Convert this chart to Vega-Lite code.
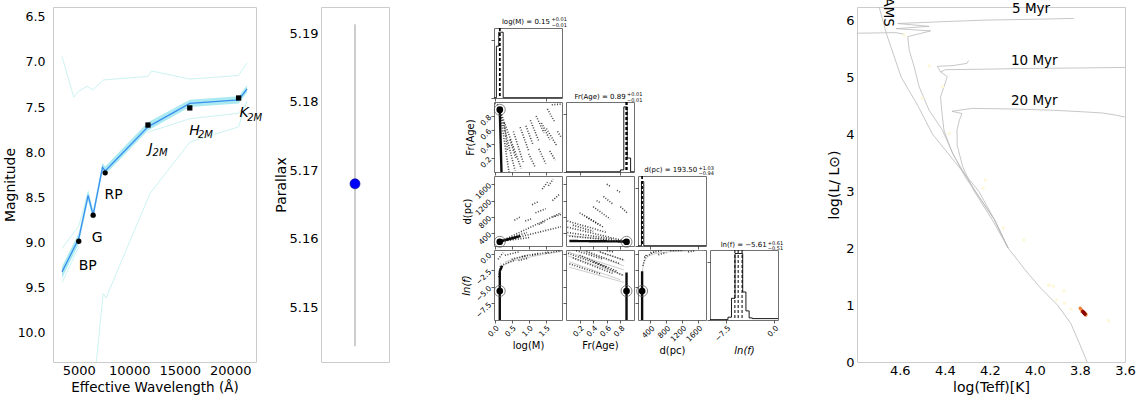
{
  "$schema": "https://vega.github.io/schema/vega-lite/v6.json",
  "autosize": {"type": "none"},
  "padding": {"left": 53, "top": 7, "right": 1090, "bottom": 392},
  "background": "#ffffff",
  "config": {
    "font": "DejaVu Sans",
    "view": {"stroke": "#cccccc", "strokeWidth": 1},
    "axis": {"grid": false, "ticks": false, "domain": false, "labelColor": "#000000", "titleColor": "#000000", "labelFontSize": 13, "titleFontSize": 14, "titleFontWeight": "normal", "labelFlush": false, "labelOverlap": false, "labelFont": "DejaVu Sans", "titleFont": "DejaVu Sans"},
    "text": {"font": "DejaVu Sans", "color": "#000000"}
  },
  "datasets": {
    "sed_model": [
      {"wl": 3344, "mag": 9.33, "lo": 9.27, "hi": 9.40},
      {"wl": 5000, "mag": 8.96, "lo": 8.90, "hi": 9.02},
      {"wl": 5927, "mag": 8.48, "lo": 8.42, "hi": 8.54},
      {"wl": 6424, "mag": 8.70, "lo": 8.64, "hi": 8.75},
      {"wl": 7351, "mag": 8.17, "lo": 8.12, "hi": 8.22},
      {"wl": 7616, "mag": 8.21, "lo": 8.16, "hi": 8.25},
      {"wl": 11854, "mag": 7.72, "lo": 7.67, "hi": 7.76},
      {"wl": 15993, "mag": 7.46, "lo": 7.42, "hi": 7.50},
      {"wl": 20828, "mag": 7.42, "lo": 7.38, "hi": 7.46},
      {"wl": 21656, "mag": 7.30, "lo": 7.26, "hi": 7.34}
    ],
    "sed_alt": [
      {"run": "a", "wl": 3344, "mag": 6.94}, {"run": "a", "wl": 4503, "mag": 7.39}, {"run": "a", "wl": 4934, "mag": 7.33},
      {"run": "a", "wl": 5828, "mag": 7.27}, {"run": "a", "wl": 6424, "mag": 7.31}, {"run": "a", "wl": 7417, "mag": 7.20},
      {"run": "a", "wl": 11854, "mag": 7.16}, {"run": "a", "wl": 12219, "mag": 7.10}, {"run": "a", "wl": 15993, "mag": 7.19},
      {"run": "a", "wl": 20828, "mag": 7.15}, {"run": "a", "wl": 21656, "mag": 7.01},
      {"run": "b", "wl": 6500, "mag": 10.6}, {"run": "b", "wl": 7417, "mag": 9.57}, {"run": "b", "wl": 7700, "mag": 9.62},
      {"run": "b", "wl": 12054, "mag": 8.46}, {"run": "b", "wl": 15993, "mag": 7.89}, {"run": "b", "wl": 20828, "mag": 7.72},
      {"run": "b", "wl": 21656, "mag": 7.43},
      {"run": "c", "wl": 11854, "mag": 7.78}, {"run": "c", "wl": 15993, "mag": 7.63}, {"run": "c", "wl": 20828, "mag": 7.57},
      {"run": "c", "wl": 21656, "mag": 7.45},
      {"run": "d", "wl": 3344, "mag": 9.07}, {"run": "d", "wl": 5000, "mag": 8.82}, {"run": "d", "wl": 5900, "mag": 8.45},
      {"run": "e", "wl": 3344, "mag": 9.45}, {"run": "e", "wl": 5000, "mag": 9.05}
    ],
    "sed_obs": [
      {"band": "BP", "wl": 5000, "mag": 8.99, "survey": "Gaia"},
      {"band": "G", "wl": 6424, "mag": 8.70, "survey": "Gaia"},
      {"band": "RP", "wl": 7616, "mag": 8.23, "survey": "Gaia"},
      {"band": "J", "wl": 11854, "mag": 7.70, "survey": "2MASS"},
      {"band": "H", "wl": 15993, "mag": 7.51, "survey": "2MASS"},
      {"band": "K", "wl": 20828, "mag": 7.40, "survey": "2MASS"}
    ],
    "sed_labels": [
      {"label": "BP", "wl": 5894, "mag": 9.26, "style": "plain"},
      {"label": "G", "wl": 6818, "mag": 8.95, "style": "plain"},
      {"label": "RP", "wl": 8447, "mag": 8.48, "style": "plain"},
      {"label": "J", "wl": 12122, "mag": 7.97, "style": "band"},
      {"label": "2M", "wl": 13046, "mag": 8.01, "style": "sub"},
      {"label": "H", "wl": 16454, "mag": 7.77, "style": "band"},
      {"label": "2M", "wl": 17547, "mag": 7.81, "style": "sub"},
      {"label": "K", "wl": 21359, "mag": 7.57, "style": "band"},
      {"label": "2M", "wl": 22417, "mag": 7.62, "style": "sub"}
    ],
    "parallax": [{"pos": 0, "plx": 5.168, "lo": 5.1443, "hi": 5.1913}],
    "hist": [
      {"cell": "M", "v": -0.02, "h": 0.004}, {"cell": "M", "v": 0.05, "h": 0.74}, {"cell": "M", "v": 0.12, "h": 0.94},
      {"cell": "M", "v": 0.25, "h": 0.004}, {"cell": "M", "v": 1.98, "h": 0.004},
      {"cell": "F", "v": 0.0, "h": 0.003}, {"cell": "F", "v": 0.80, "h": 0.03}, {"cell": "F", "v": 0.85, "h": 0.93},
      {"cell": "F", "v": 0.90, "h": 0.20}, {"cell": "F", "v": 0.95, "h": 0.003}, {"cell": "F", "v": 1.0, "h": 0.003},
      {"cell": "D", "v": 90, "h": 0.003}, {"cell": "D", "v": 177, "h": 0.92}, {"cell": "D", "v": 235, "h": 0.004},
      {"cell": "D", "v": 1800, "h": 0.004},
      {"cell": "L", "v": -10, "h": 0.005}, {"cell": "L", "v": -7.2, "h": 0.04}, {"cell": "L", "v": -6.65, "h": 0.31},
      {"cell": "L", "v": -6.1, "h": 0.95}, {"cell": "L", "v": -5.5, "h": 0.95}, {"cell": "L", "v": -4.9, "h": 0.40},
      {"cell": "L", "v": -4.4, "h": 0.13}, {"cell": "L", "v": -3.9, "h": 0.03}, {"cell": "L", "v": -3.4, "h": 0.02},
      {"cell": "L", "v": 0.6, "h": 0.02}
    ],
    "q": [
      {"cell": "M", "v": 0.14}, {"cell": "M", "v": 0.15}, {"cell": "M", "v": 0.16},
      {"cell": "F", "v": 0.88}, {"cell": "F", "v": 0.89}, {"cell": "F", "v": 0.90},
      {"cell": "D", "v": 192.56}, {"cell": "D", "v": 193.5}, {"cell": "D", "v": 194.53},
      {"cell": "L", "v": -6.12}, {"cell": "L", "v": -5.61}, {"cell": "L", "v": -5.0}
    ],
    "htitle": [
      {"cell": "M", "part": "main", "v": 1.627, "h": 1.09, "label": "log(M) = 0.15"},
      {"cell": "M", "part": "sup", "v": 1.671, "h": 1.125, "label": "+0.01"},
      {"cell": "M", "part": "sub", "v": 1.671, "h": 1.045, "label": "−0.01"},
      {"cell": "F", "part": "main", "v": 0.878, "h": 1.076, "label": "Fr(Age) = 0.89"},
      {"cell": "F", "part": "sup", "v": 0.897, "h": 1.11, "label": "+0.01"},
      {"cell": "F", "part": "sub", "v": 0.897, "h": 1.03, "label": "−0.01"},
      {"cell": "D", "part": "main", "v": 1581, "h": 1.086, "label": "d(pc) = 193.50"},
      {"cell": "D", "part": "sup", "v": 1611, "h": 1.12, "label": "+1.03"},
      {"cell": "D", "part": "sub", "v": 1611, "h": 1.04, "label": "−0.94"},
      {"cell": "L", "part": "main", "v": -1.16, "h": 1.071, "label": "ln(f) = −5.61"},
      {"cell": "L", "part": "sup", "v": -1.0, "h": 1.105, "label": "+0.61"},
      {"cell": "L", "part": "sub", "v": -1.0, "h": 1.025, "label": "−0.51"}
    ],
    "samples": [
      {"cell": "MF", "kind": "cloud", "a": 0.11, "b": 0.93, "a2": 0.19, "b2": 0.84},
      {"cell": "MF", "kind": "trail", "a": 0.15, "b": 0.89, "a2": 0.42, "b2": 0.0},
      {"cell": "MF", "kind": "trail", "a": 0.15, "b": 0.89, "a2": 0.6, "b2": 0.02},
      {"cell": "MF", "kind": "trail", "a": 0.15, "b": 0.89, "a2": 0.78, "b2": 0.05},
      {"cell": "MF", "kind": "trail", "a": 0.28, "b": 0.7, "a2": 0.38, "b2": 0.3},
      {"cell": "MF", "kind": "trail", "a": 0.55, "b": 0.58, "a2": 0.85, "b2": 0.12},
      {"cell": "MF", "kind": "trail", "a": 0.75, "b": 0.64, "a2": 1.0, "b2": 0.3},
      {"cell": "MF", "kind": "trail", "a": 0.92, "b": 0.66, "a2": 1.12, "b2": 0.4},
      {"cell": "MF", "kind": "trail", "a": 1.05, "b": 0.74, "a2": 1.3, "b2": 0.44},
      {"cell": "MF", "kind": "trail", "a": 1.22, "b": 0.8, "a2": 1.45, "b2": 0.56},
      {"cell": "MF", "kind": "trail", "a": 1.38, "b": 0.7, "a2": 1.62, "b2": 0.46},
      {"cell": "MF", "kind": "trail", "a": 1.52, "b": 0.62, "a2": 1.82, "b2": 0.38},
      {"cell": "MF", "kind": "trail", "a": 1.0, "b": 0.26, "a2": 1.2, "b2": 0.06},
      {"cell": "MF", "kind": "trail", "a": 1.3, "b": 0.33, "a2": 1.5, "b2": 0.12},
      {"cell": "MF", "kind": "trail", "a": 1.62, "b": 0.3, "a2": 1.78, "b2": 0.17},
      {"cell": "MF", "kind": "trail", "a": 1.68, "b": 0.96, "a2": 1.96, "b2": 0.97},
      {"cell": "MF", "kind": "trail", "a": 0.45, "b": 0.46, "a2": 0.62, "b2": 0.2},
      {"cell": "MF", "kind": "trail", "a": 1.55, "b": 0.9, "a2": 1.76, "b2": 0.72},
      {"cell": "MF", "kind": "trail", "a": 0.0, "b": 0.98, "a2": 0.1, "b2": 0.96},
      {"cell": "MF", "kind": "trail", "a": 1.85, "b": 0.58, "a2": 1.95, "b2": 0.5},
      {"cell": "MF", "kind": "core", "a": 0.15, "b": 0.89, "a2": 0.2, "b2": 0.0},
      {"cell": "MD", "kind": "cloud", "a": 0.08, "b": 200, "a2": 0.35, "b2": 240},
      {"cell": "MD", "kind": "trail", "a": 0.15, "b": 194, "a2": 1.95, "b2": 900},
      {"cell": "MD", "kind": "trail", "a": 0.15, "b": 194, "a2": 1.95, "b2": 560},
      {"cell": "MD", "kind": "trail", "a": 0.15, "b": 200, "a2": 1.05, "b2": 300},
      {"cell": "MD", "kind": "trail", "a": 1.2, "b": 900, "a2": 1.5, "b2": 1000},
      {"cell": "MD", "kind": "trail", "a": 1.4, "b": 1480, "a2": 1.55, "b2": 1650},
      {"cell": "MD", "kind": "trail", "a": 1.58, "b": 1560, "a2": 1.72, "b2": 1720},
      {"cell": "MD", "kind": "trail", "a": 1.7, "b": 1200, "a2": 1.9, "b2": 1350},
      {"cell": "MD", "kind": "trail", "a": 0.9, "b": 700, "a2": 1.1, "b2": 760},
      {"cell": "MD", "kind": "trail", "a": 0.58, "b": 720, "a2": 0.75, "b2": 800},
      {"cell": "MD", "kind": "trail", "a": 1.3, "b": 620, "a2": 1.5, "b2": 700},
      {"cell": "MD", "kind": "trail", "a": 1.7, "b": 800, "a2": 1.95, "b2": 860},
      {"cell": "MD", "kind": "trail", "a": 0.35, "b": 260, "a2": 0.95, "b2": 420},
      {"cell": "MD", "kind": "trail", "a": 1.1, "b": 1100, "a2": 1.3, "b2": 1180},
      {"cell": "MD", "kind": "core", "a": 0.12, "b": 194, "a2": 0.75, "b2": 330},
      {"cell": "FD", "kind": "cloud", "a": 0.02, "b": 350, "a2": 0.6, "b2": 250},
      {"cell": "FD", "kind": "trail", "a": 0.02, "b": 550, "a2": 0.89, "b2": 205},
      {"cell": "FD", "kind": "trail", "a": 0.02, "b": 700, "a2": 0.6, "b2": 420},
      {"cell": "FD", "kind": "trail", "a": 0.02, "b": 420, "a2": 0.7, "b2": 260},
      {"cell": "FD", "kind": "trail", "a": 0.05, "b": 330, "a2": 0.8, "b2": 215},
      {"cell": "FD", "kind": "trail", "a": 0.2, "b": 900, "a2": 0.5, "b2": 600},
      {"cell": "FD", "kind": "trail", "a": 0.4, "b": 1050, "a2": 0.65, "b2": 750},
      {"cell": "FD", "kind": "trail", "a": 0.55, "b": 1300, "a2": 0.7, "b2": 1100},
      {"cell": "FD", "kind": "trail", "a": 0.6, "b": 1600, "a2": 0.66, "b2": 1540},
      {"cell": "FD", "kind": "trail", "a": 0.8, "b": 1050, "a2": 0.9, "b2": 900},
      {"cell": "FD", "kind": "trail", "a": 0.3, "b": 800, "a2": 0.55, "b2": 550},
      {"cell": "FD", "kind": "trail", "a": 0.75, "b": 1450, "a2": 0.8, "b2": 1400},
      {"cell": "FD", "kind": "trail", "a": 0.1, "b": 600, "a2": 0.4, "b2": 450},
      {"cell": "FD", "kind": "trail", "a": 0.45, "b": 1200, "a2": 0.5, "b2": 1150},
      {"cell": "FD", "kind": "core", "a": 0.05, "b": 212, "a2": 0.89, "b2": 200},
      {"cell": "ML", "kind": "cloud", "a": 0.2, "b": -1.9, "a2": 0.45, "b2": -1.2},
      {"cell": "ML", "kind": "cloud", "a": 0.45, "b": -1.2, "a2": 0.8, "b2": -0.7},
      {"cell": "ML", "kind": "cloud", "a": 0.8, "b": -0.7, "a2": 1.2, "b2": -0.3},
      {"cell": "ML", "kind": "cloud", "a": 1.2, "b": -0.3, "a2": 1.6, "b2": 0.1},
      {"cell": "ML", "kind": "cloud", "a": 1.6, "b": 0.1, "a2": 1.98, "b2": 0.4},
      {"cell": "ML", "kind": "cloud", "a": 0.3, "b": -1.2, "a2": 1.0, "b2": -0.1},
      {"cell": "ML", "kind": "trail", "a": 0.25, "b": -1.6, "a2": 0.6, "b2": -0.9},
      {"cell": "ML", "kind": "trail", "a": 0.5, "b": -0.8, "a2": 0.9, "b2": -0.3},
      {"cell": "ML", "kind": "trail", "a": 0.8, "b": -0.4, "a2": 1.3, "b2": 0.1},
      {"cell": "ML", "kind": "trail", "a": 1.1, "b": -0.2, "a2": 1.6, "b2": 0.3},
      {"cell": "ML", "kind": "trail", "a": 1.5, "b": 0.1, "a2": 1.95, "b2": 0.5},
      {"cell": "ML", "kind": "trail", "a": 0.1, "b": -0.8, "a2": 0.25, "b2": 0.2},
      {"cell": "ML", "kind": "trail", "a": 0.3, "b": -0.2, "a2": 0.7, "b2": 0.3},
      {"cell": "ML", "kind": "trail", "a": 0.7, "b": -1.0, "a2": 1.0, "b2": -0.6},
      {"cell": "ML", "kind": "trail", "a": 0.12, "b": -3.5, "a2": 0.18, "b2": -1.5},
      {"cell": "ML", "kind": "core", "a": 0.15, "b": -10, "a2": 0.15, "b2": -2.6},
      {"cell": "ML", "kind": "core", "a": 0.15, "b": -2.6, "a2": 0.22, "b2": -1.8},
      {"cell": "FL", "kind": "cloud", "a": 0.03, "b": -0.3, "a2": 0.85, "b2": -3.2},
      {"cell": "FL", "kind": "cloud", "a": 0.03, "b": 0.3, "a2": 0.85, "b2": -2.4},
      {"cell": "FL", "kind": "cloud", "a": 0.05, "b": -1.2, "a2": 0.8, "b2": -3.9},
      {"cell": "FL", "kind": "cloud", "a": 0.25, "b": 0.45, "a2": 0.85, "b2": -1.8},
      {"cell": "FL", "kind": "cloud", "a": 0.05, "b": -2.0, "a2": 0.85, "b2": -4.3},
      {"cell": "FL", "kind": "cloud", "a": 0.45, "b": 0.5, "a2": 0.86, "b2": -1.0},
      {"cell": "FL", "kind": "trail", "a": 0.03, "b": 0.1, "a2": 0.6, "b2": -2.0},
      {"cell": "FL", "kind": "trail", "a": 0.1, "b": -0.6, "a2": 0.7, "b2": -3.0},
      {"cell": "FL", "kind": "trail", "a": 0.2, "b": -0.2, "a2": 0.75, "b2": -2.6},
      {"cell": "FL", "kind": "trail", "a": 0.3, "b": 0.4, "a2": 0.8, "b2": -1.5},
      {"cell": "FL", "kind": "trail", "a": 0.05, "b": -1.5, "a2": 0.5, "b2": -3.0},
      {"cell": "FL", "kind": "trail", "a": 0.4, "b": -1.2, "a2": 0.85, "b2": -3.3},
      {"cell": "FL", "kind": "trail", "a": 0.5, "b": 0.3, "a2": 0.85, "b2": -0.9},
      {"cell": "FL", "kind": "trail", "a": 0.6, "b": 0.5, "a2": 0.7, "b2": 0.3},
      {"cell": "FL", "kind": "trail", "a": 0.15, "b": 0.5, "a2": 0.55, "b2": -0.8},
      {"cell": "FL", "kind": "core", "a": 0.89, "b": -10, "a2": 0.89, "b2": -2.8},
      {"cell": "DL", "kind": "cloud", "a": 200, "b": -2.6, "a2": 240, "b2": -1.2},
      {"cell": "DL", "kind": "cloud", "a": 240, "b": -1.2, "a2": 350, "b2": -0.3},
      {"cell": "DL", "kind": "cloud", "a": 350, "b": -0.3, "a2": 550, "b2": 0.1},
      {"cell": "DL", "kind": "cloud", "a": 550, "b": 0.1, "a2": 900, "b2": 0.35},
      {"cell": "DL", "kind": "cloud", "a": 900, "b": 0.35, "a2": 1300, "b2": 0.45},
      {"cell": "DL", "kind": "cloud", "a": 1300, "b": 0.45, "a2": 1750, "b2": 0.55},
      {"cell": "DL", "kind": "trail", "a": 210, "b": -1.8, "a2": 300, "b2": 0.0},
      {"cell": "DL", "kind": "trail", "a": 400, "b": 0.2, "a2": 700, "b2": 0.5},
      {"cell": "DL", "kind": "trail", "a": 900, "b": 0.5, "a2": 1200, "b2": 0.55},
      {"cell": "DL", "kind": "trail", "a": 1350, "b": 0.3, "a2": 1500, "b2": 0.45},
      {"cell": "DL", "kind": "trail", "a": 250, "b": -0.5, "a2": 500, "b2": 0.3},
      {"cell": "DL", "kind": "trail", "a": 600, "b": -0.1, "a2": 800, "b2": 0.2},
      {"cell": "DL", "kind": "core", "a": 193.5, "b": -10, "a2": 193.5, "b2": -2.6}
    ],
    "best": [
      {"cell": "MF", "a": 0.15, "b": 0.89}, {"cell": "MD", "a": 0.15, "b": 193.5}, {"cell": "FD", "a": 0.89, "b": 193.5},
      {"cell": "ML", "a": 0.15, "b": -5.61}, {"cell": "FL", "a": 0.89, "b": -5.61}, {"cell": "DL", "a": 193.5, "b": -5.61}
    ],
    "isochrones": [
      {"track": "ZAMS", "i": 0, "logT": 4.70, "logL": 6.35}, {"track": "ZAMS", "i": 1, "logT": 4.66, "logL": 5.77},
      {"track": "ZAMS", "i": 2, "logT": 4.594, "logL": 5.0}, {"track": "ZAMS", "i": 3, "logT": 4.52, "logL": 4.5},
      {"track": "ZAMS", "i": 4, "logT": 4.455, "logL": 4.0}, {"track": "ZAMS", "i": 5, "logT": 4.353, "logL": 3.5},
      {"track": "ZAMS", "i": 6, "logT": 4.25, "logL": 3.0}, {"track": "ZAMS", "i": 7, "logT": 4.18, "logL": 2.5},
      {"track": "ZAMS", "i": 8, "logT": 4.119, "logL": 2.0}, {"track": "ZAMS", "i": 9, "logT": 4.04, "logL": 1.6},
      {"track": "ZAMS", "i": 10, "logT": 3.973, "logL": 1.29}, {"track": "ZAMS", "i": 11, "logT": 3.90, "logL": 1.0},
      {"track": "ZAMS", "i": 12, "logT": 3.841, "logL": 0.68}, {"track": "ZAMS", "i": 13, "logT": 3.805, "logL": 0.35},
      {"track": "ZAMS", "i": 14, "logT": 3.768, "logL": 0.0}, {"track": "ZAMS", "i": 15, "logT": 3.76, "logL": -0.05},
      {"track": "5 Myr", "i": 0, "logT": 3.827, "logL": 6.03}, {"track": "5 Myr", "i": 1, "logT": 4.0, "logL": 6.015},
      {"track": "5 Myr", "i": 2, "logT": 4.221, "logL": 6.0}, {"track": "5 Myr", "i": 3, "logT": 4.426, "logL": 5.97},
      {"track": "5 Myr", "i": 4, "logT": 4.609, "logL": 5.94}, {"track": "5 Myr", "i": 5, "logT": 4.47, "logL": 5.89},
      {"track": "5 Myr", "i": 6, "logT": 4.616, "logL": 5.85}, {"track": "5 Myr", "i": 7, "logT": 4.463, "logL": 5.81},
      {"track": "5 Myr", "i": 8, "logT": 4.565, "logL": 5.71}, {"track": "5 Myr", "i": 9, "logT": 4.558, "logL": 5.47},
      {"track": "5 Myr", "i": 10, "logT": 4.536, "logL": 5.18}, {"track": "5 Myr", "i": 11, "logT": 4.514, "logL": 4.83},
      {"track": "5 Myr", "i": 12, "logT": 4.47, "logL": 4.42}, {"track": "5 Myr", "i": 13, "logT": 4.411, "logL": 4.07},
      {"track": "5 Myr", "i": 14, "logT": 4.36, "logL": 3.62}, {"track": "5 Myr", "i": 15, "logT": 4.30, "logL": 3.22},
      {"track": "5 Myr", "i": 16, "logT": 4.245, "logL": 2.88}, {"track": "5 Myr", "i": 17, "logT": 4.18, "logL": 2.5},
      {"track": "5 Myr", "i": 18, "logT": 4.119, "logL": 2.0},
      {"track": "5 Myr hot", "i": 0, "logT": 4.79, "logL": 5.77}, {"track": "5 Myr hot", "i": 1, "logT": 4.70, "logL": 5.775},
      {"track": "5 Myr hot", "i": 2, "logT": 4.616, "logL": 5.78}, {"track": "5 Myr hot", "i": 3, "logT": 4.58, "logL": 5.75},
      {"track": "10 Myr", "i": 0, "logT": 4.294, "logL": 5.29}, {"track": "10 Myr", "i": 1, "logT": 4.302, "logL": 5.24},
      {"track": "10 Myr", "i": 2, "logT": 4.368, "logL": 5.20}, {"track": "10 Myr", "i": 3, "logT": 4.433, "logL": 5.19},
      {"track": "10 Myr", "i": 4, "logT": 4.419, "logL": 5.09}, {"track": "10 Myr", "i": 5, "logT": 4.397, "logL": 5.13},
      {"track": "10 Myr", "i": 6, "logT": 4.20, "logL": 5.14}, {"track": "10 Myr", "i": 7, "logT": 4.075, "logL": 5.15},
      {"track": "10 Myr", "i": 8, "logT": 3.80, "logL": 5.16}, {"track": "10 Myr", "i": 9, "logT": 3.59, "logL": 5.17},
      {"track": "10 Myr MS", "i": 0, "logT": 4.419, "logL": 5.09}, {"track": "10 Myr MS", "i": 1, "logT": 4.389, "logL": 5.01},
      {"track": "10 Myr MS", "i": 2, "logT": 4.419, "logL": 4.65}, {"track": "10 Myr MS", "i": 3, "logT": 4.414, "logL": 4.42},
      {"track": "10 Myr MS", "i": 4, "logT": 4.404, "logL": 4.07}, {"track": "10 Myr MS", "i": 5, "logT": 4.37, "logL": 3.7},
      {"track": "10 Myr MS", "i": 6, "logT": 4.31, "logL": 3.25}, {"track": "10 Myr MS", "i": 7, "logT": 4.245, "logL": 2.88},
      {"track": "10 Myr MS", "i": 8, "logT": 4.18, "logL": 2.5}, {"track": "10 Myr MS", "i": 9, "logT": 4.119, "logL": 2.0},
      {"track": "20 Myr", "i": 0, "logT": 3.59, "logL": 4.29}, {"track": "20 Myr", "i": 1, "logT": 3.637, "logL": 4.33},
      {"track": "20 Myr", "i": 2, "logT": 3.70, "logL": 4.37}, {"track": "20 Myr", "i": 3, "logT": 3.783, "logL": 4.39},
      {"track": "20 Myr", "i": 4, "logT": 3.929, "logL": 4.42}, {"track": "20 Myr", "i": 5, "logT": 4.10, "logL": 4.44},
      {"track": "20 Myr", "i": 6, "logT": 4.28, "logL": 4.45}, {"track": "20 Myr", "i": 7, "logT": 4.368, "logL": 4.40},
      {"track": "20 Myr", "i": 8, "logT": 4.324, "logL": 4.36}, {"track": "20 Myr", "i": 9, "logT": 4.335, "logL": 4.25},
      {"track": "20 Myr", "i": 10, "logT": 4.346, "logL": 4.07}, {"track": "20 Myr", "i": 11, "logT": 4.345, "logL": 3.80},
      {"track": "20 Myr", "i": 12, "logT": 4.32, "logL": 3.42}, {"track": "20 Myr", "i": 13, "logT": 4.27, "logL": 3.0},
      {"track": "20 Myr", "i": 14, "logT": 4.19, "logL": 2.5}, {"track": "20 Myr", "i": 15, "logT": 4.119, "logL": 2.0}
    ],
    "hr_samples": [
      {"logT": 3.936, "logL": 1.35, "dens": 0.02}, {"logT": 3.918, "logL": 1.33, "dens": 0.02}, {"logT": 3.871, "logL": 1.25, "dens": 0.02},
      {"logT": 3.904, "logL": 1.09, "dens": 0.02}, {"logT": 3.869, "logL": 1.03, "dens": 0.02}, {"logT": 3.84, "logL": 0.93, "dens": 0.02},
      {"logT": 3.673, "logL": 0.725, "dens": 0.02}, {"logT": 4.58, "logL": 5.74, "dens": 0.02}, {"logT": 4.50, "logL": 4.63, "dens": 0.02},
      {"logT": 4.41, "logL": 4.83, "dens": 0.02}, {"logT": 4.38, "logL": 4.01, "dens": 0.02}, {"logT": 4.22, "logL": 3.19, "dens": 0.02},
      {"logT": 4.23, "logL": 3.05, "dens": 0.02}, {"logT": 4.14, "logL": 2.35, "dens": 0.02}, {"logT": 4.05, "logL": 2.14, "dens": 0.02},
      {"logT": 3.94, "logL": 1.35, "dens": 0.02}, {"logT": 4.47, "logL": 5.2, "dens": 0.02},
      {"logT": 3.792, "logL": 0.905, "dens": 0.6}, {"logT": 3.795, "logL": 0.925, "dens": 0.5}, {"logT": 3.799, "logL": 0.945, "dens": 0.55},
      {"logT": 3.775, "logL": 0.825, "dens": 0.6}, {"logT": 3.772, "logL": 0.835, "dens": 0.4}, {"logT": 3.790, "logL": 0.885, "dens": 0.75},
      {"logT": 3.776, "logL": 0.855, "dens": 0.45}, {"logT": 3.793, "logL": 0.89, "dens": 0.4},
      {"logT": 3.786, "logL": 0.88, "dens": 1}, {"logT": 3.783, "logL": 0.865, "dens": 1}, {"logT": 3.780, "logL": 0.85, "dens": 1},
      {"logT": 3.777, "logL": 0.838, "dens": 0.95}, {"logT": 3.788, "logL": 0.89, "dens": 0.9}, {"logT": 3.784, "logL": 0.875, "dens": 0.95},
      {"logT": 3.781, "logL": 0.86, "dens": 1}, {"logT": 3.779, "logL": 0.845, "dens": 0.95}
    ],
    "ages": [
      {"label": "5 Myr", "logT": 4.017, "logL": 6.19},
      {"label": "10 Myr", "logT": 4.003, "logL": 5.28},
      {"label": "20 Myr", "logT": 4.003, "logL": 4.58}
    ],
    "zams_label": [{"label": "ZAMS", "logT": 4.653, "logL": 6.22}]
  },
  "bounds": "flush",
  "spacing": 0,
  "resolve": {"scale": {"color": "independent", "shape": "independent", "opacity": "independent", "strokeWidth": "independent", "strokeDash": "independent"}},
  "hconcat": [
    {
      "width": 203, "height": 355,
      "encoding": {
        "x": {"field": "wl", "type": "quantitative", "scale": {"domain": [2450, 22550], "nice": false, "zero": false},
              "axis": {"values": [5000, 10000, 15000, 20000], "format": "d", "title": "Effective Wavelength (Å)", "titleFontSize": 13.5, "labelPadding": 2, "titlePadding": 3}},
        "y": {"field": "mag", "type": "quantitative", "scale": {"domain": [6.39, 10.33], "reverse": true, "nice": false, "zero": false},
              "axis": {"values": [6.5, 7, 7.5, 8, 8.5, 9, 9.5, 10], "format": ".1f", "title": "Magnitude", "labelFontSize": 12.5, "labelPadding": 8, "titlePadding": 0}}
      },
      "layer": [
        {"data": {"name": "sed_alt"}, "mark": {"type": "line", "color": "#cdf3f3", "strokeWidth": 1, "clip": true}, "encoding": {"detail": {"field": "run"}}},
        {"data": {"name": "sed_model"}, "mark": {"type": "area", "color": "#8fe3ec", "opacity": 0.75}, "encoding": {"y": {"field": "lo", "type": "quantitative"}, "y2": {"field": "hi"}}},
        {"data": {"name": "sed_model"}, "mark": {"type": "line", "color": "#3b8ff0", "strokeWidth": 1.3}},
        {"data": {"name": "sed_obs"}, "mark": {"type": "point", "filled": true, "color": "#000000", "opacity": 1, "size": 28},
         "encoding": {"shape": {"field": "survey", "type": "nominal", "scale": {"domain": ["Gaia", "2MASS"], "range": ["circle", "square"]}, "legend": null}}},
        {"data": {"name": "sed_labels"}, "transform": [{"filter": "datum.style === 'plain'"}],
         "mark": {"type": "text", "fontSize": 14, "align": "center", "baseline": "middle"}, "encoding": {"text": {"field": "label"}}},
        {"data": {"name": "sed_labels"}, "transform": [{"filter": "datum.style === 'band'"}],
         "mark": {"type": "text", "fontSize": 14, "fontStyle": "italic", "align": "center", "baseline": "middle"}, "encoding": {"text": {"field": "label"}}},
        {"data": {"name": "sed_labels"}, "transform": [{"filter": "datum.style === 'sub'"}],
         "mark": {"type": "text", "fontSize": 10, "fontStyle": "italic", "align": "center", "baseline": "middle"}, "encoding": {"text": {"field": "label"}}}
      ]
    },
    {"width": 65, "height": 10, "view": {"stroke": null}, "data": {"values": []}, "mark": {"type": "rule"}, "encoding": {}},
    {
      "width": 68, "height": 355,
      "data": {"name": "parallax"},
      "encoding": {
        "x": {"field": "pos", "type": "quantitative", "scale": {"domain": [-1, 1]}, "axis": null},
        "y": {"field": "plx", "type": "quantitative", "scale": {"domain": [5.142, 5.1938], "nice": false, "zero": false},
              "axis": {"values": [5.15, 5.16, 5.17, 5.18, 5.19], "format": ".2f", "title": "Parallax", "labelPadding": 3, "titlePadding": 1}}
      },
      "layer": [
        {"mark": {"type": "rule", "color": "#bdbdbd", "strokeWidth": 1.5}, "encoding": {"y": {"field": "lo", "type": "quantitative"}, "y2": {"field": "hi"}}},
        {"mark": {"type": "point", "filled": true, "color": "#0000ff", "stroke": "#000080", "strokeWidth": 0.6, "size": 100, "opacity": 1}}
      ]
    },
    {"width": 105, "height": 10, "view": {"stroke": null}, "data": {"values": []}, "mark": {"type": "rule"}, "encoding": {}},
    {
      "columns": 4, "bounds": "flush", "spacing": 4, "align": "each",
      "concat": [
        {"width": 68, "height": 17, "view": {"stroke": null}, "data": {"values": []}, "mark": {"type": "rule"}, "encoding": {}},
        {"width": 68, "height": 17, "view": {"stroke": null}, "data": {"values": []}, "mark": {"type": "rule"}, "encoding": {}},
        {"width": 68, "height": 17, "view": {"stroke": null}, "data": {"values": []}, "mark": {"type": "rule"}, "encoding": {}},
        {"width": 68, "height": 17, "view": {"stroke": null}, "data": {"values": []}, "mark": {"type": "rule"}, "encoding": {}},
        {
          "width": 68, "height": 70, "view": {"stroke": "#707070"},
          "layer": [
            {"data": {"name": "hist"}, "transform": [{"filter": "datum.cell === 'M'"}],
             "mark": {"type": "line", "interpolate": "step-after", "color": "#000000", "strokeWidth": 0.9},
             "encoding": {
               "x": {"field": "v", "type": "quantitative", "scale": {"domain": [-0.02, 1.98], "nice": false, "zero": false},
                     "axis": {"values": [0, 0.5, 1, 1.5], "labels": false, "title": null, "ticks": true, "tickSize": 3, "tickColor": "#333333", "tickWidth": 0.8}},
               "y": {"field": "h", "type": "quantitative", "scale": {"domain": [0, 1], "nice": false, "zero": false},
                     "axis": {"values": [0.005, 0.42, 0.835], "labels": false, "title": null, "ticks": true, "tickSize": 3, "tickColor": "#333333", "tickWidth": 0.8}}}},
            {"data": {"name": "q"}, "transform": [{"filter": "datum.cell === 'M'"}],
             "mark": {"type": "rule", "color": "#000000", "strokeDash": [3, 2], "strokeWidth": 1}, "encoding": {"x": {"field": "v", "type": "quantitative"}}},
            {"data": {"name": "htitle"}, "transform": [{"filter": "datum.cell === 'M' && datum.part === 'main'"}],
             "mark": {"type": "text", "align": "right", "baseline": "middle", "fontSize": 7},
             "encoding": {"x": {"field": "v", "type": "quantitative"}, "y": {"field": "h", "type": "quantitative"}, "text": {"field": "label"}}},
            {"data": {"name": "htitle"}, "transform": [{"filter": "datum.cell === 'M' && datum.part !== 'main'"}],
             "mark": {"type": "text", "align": "left", "baseline": "middle", "fontSize": 5},
             "encoding": {"x": {"field": "v", "type": "quantitative"}, "y": {"field": "h", "type": "quantitative"}, "text": {"field": "label"}}}
          ]
        },
        {"width": 68, "height": 70, "view": {"stroke": null}, "data": {"values": []}, "mark": {"type": "rule"}, "encoding": {}},
        {"width": 68, "height": 70, "view": {"stroke": null}, "data": {"values": []}, "mark": {"type": "rule"}, "encoding": {}},
        {"width": 68, "height": 70, "view": {"stroke": null}, "data": {"values": []}, "mark": {"type": "rule"}, "encoding": {}},
        {
          "width": 68, "height": 70, "view": {"stroke": "#707070"},
          "encoding": {
            "x": {"field": "a", "type": "quantitative", "scale": {"domain": [-0.02, 1.98], "nice": false, "zero": false},
                  "axis": {"values": [0, 0.5, 1, 1.5], "labels": false, "title": null, "ticks": true, "tickSize": 3, "tickColor": "#333333", "tickWidth": 0.8}},
            "y": {"field": "b", "type": "quantitative", "scale": {"domain": [0, 1], "nice": false, "zero": false},
                  "axis": {"values": [0.2, 0.4, 0.6, 0.8], "format": ".1f", "title": "Fr(Age)", "ticks": true, "tickSize": 3, "tickColor": "#333333", "tickWidth": 0.8, "labelFontSize": 7.5, "titleFontSize": 10, "labelAngle": -45, "labelAlign": "right", "labelBaseline": "middle", "labelPadding": 1, "titlePadding": 3}}
          },
          "layer": [
            {"data": {"name": "samples"}, "transform": [{"filter": "datum.cell === 'MF'"}], "mark": {"type": "rule", "clip": true},
             "encoding": {"x2": {"field": "a2"}, "y2": {"field": "b2"},
               "color": {"field": "kind", "type": "nominal", "scale": {"domain": ["core", "trail", "cloud"], "range": ["#000000", "#1a1a1a", "#9e9e9e"]}, "legend": null},
               "strokeWidth": {"field": "kind", "type": "ordinal", "scale": {"domain": ["core", "trail", "cloud"], "range": [2.4, 0.8, 5]}, "legend": null},
               "strokeDash": {"field": "kind", "type": "nominal", "scale": {"domain": ["core", "trail", "cloud"], "range": [[1, 0], [1, 1.6], [1, 0]]}, "legend": null},
               "opacity": {"field": "kind", "type": "ordinal", "scale": {"domain": ["core", "trail", "cloud"], "range": [0.95, 0.7, 0.4]}, "legend": null}}},
            {"data": {"name": "best"}, "transform": [{"filter": "datum.cell === 'MF'"}], "mark": {"type": "point", "filled": false, "color": "#555555", "strokeWidth": 1, "size": 120}},
            {"data": {"name": "best"}, "transform": [{"filter": "datum.cell === 'MF'"}], "mark": {"type": "point", "filled": true, "color": "#000000", "opacity": 1, "size": 45}}
          ]
        },
        {
          "width": 68, "height": 70, "view": {"stroke": "#707070"},
          "layer": [
            {"data": {"name": "hist"}, "transform": [{"filter": "datum.cell === 'F'"}],
             "mark": {"type": "line", "interpolate": "step-after", "color": "#000000", "strokeWidth": 0.9},
             "encoding": {
               "x": {"field": "v", "type": "quantitative", "scale": {"domain": [0, 1], "nice": false, "zero": false},
                     "axis": {"values": [0.2, 0.4, 0.6, 0.8], "labels": false, "title": null, "ticks": true, "tickSize": 3, "tickColor": "#333333", "tickWidth": 0.8}},
               "y": {"field": "h", "type": "quantitative", "scale": {"domain": [0, 1], "nice": false, "zero": false},
                     "axis": {"values": [0.005, 0.42, 0.835], "labels": false, "title": null, "ticks": true, "tickSize": 3, "tickColor": "#333333", "tickWidth": 0.8}}}},
            {"data": {"name": "q"}, "transform": [{"filter": "datum.cell === 'F'"}],
             "mark": {"type": "rule", "color": "#000000", "strokeDash": [3, 2], "strokeWidth": 1}, "encoding": {"x": {"field": "v", "type": "quantitative"}}},
            {"data": {"name": "htitle"}, "transform": [{"filter": "datum.cell === 'F' && datum.part === 'main'"}],
             "mark": {"type": "text", "align": "right", "baseline": "middle", "fontSize": 7},
             "encoding": {"x": {"field": "v", "type": "quantitative"}, "y": {"field": "h", "type": "quantitative"}, "text": {"field": "label"}}},
            {"data": {"name": "htitle"}, "transform": [{"filter": "datum.cell === 'F' && datum.part !== 'main'"}],
             "mark": {"type": "text", "align": "left", "baseline": "middle", "fontSize": 5},
             "encoding": {"x": {"field": "v", "type": "quantitative"}, "y": {"field": "h", "type": "quantitative"}, "text": {"field": "label"}}}
          ]
        },
        {"width": 68, "height": 70, "view": {"stroke": null}, "data": {"values": []}, "mark": {"type": "rule"}, "encoding": {}},
        {"width": 68, "height": 70, "view": {"stroke": null}, "data": {"values": []}, "mark": {"type": "rule"}, "encoding": {}},
        {
          "width": 68, "height": 70, "view": {"stroke": "#707070"},
          "encoding": {
            "x": {"field": "a", "type": "quantitative", "scale": {"domain": [-0.02, 1.98], "nice": false, "zero": false},
                  "axis": {"values": [0, 0.5, 1, 1.5], "labels": false, "title": null, "ticks": true, "tickSize": 3, "tickColor": "#333333", "tickWidth": 0.8}},
            "y": {"field": "b", "type": "quantitative", "scale": {"domain": [90, 1800], "nice": false, "zero": false},
                  "axis": {"values": [400, 800, 1200, 1600], "format": "d", "title": "d(pc)", "ticks": true, "tickSize": 3, "tickColor": "#333333", "tickWidth": 0.8, "labelFontSize": 7.5, "titleFontSize": 10, "labelAngle": -45, "labelAlign": "right", "labelBaseline": "middle", "labelPadding": 1, "titlePadding": 1}}
          },
          "layer": [
            {"data": {"name": "samples"}, "transform": [{"filter": "datum.cell === 'MD'"}], "mark": {"type": "rule", "clip": true},
             "encoding": {"x2": {"field": "a2"}, "y2": {"field": "b2"},
               "color": {"field": "kind", "type": "nominal", "scale": {"domain": ["core", "trail", "cloud"], "range": ["#000000", "#1a1a1a", "#9e9e9e"]}, "legend": null},
               "strokeWidth": {"field": "kind", "type": "ordinal", "scale": {"domain": ["core", "trail", "cloud"], "range": [2.4, 0.8, 5]}, "legend": null},
               "strokeDash": {"field": "kind", "type": "nominal", "scale": {"domain": ["core", "trail", "cloud"], "range": [[1, 0], [1, 1.6], [1, 0]]}, "legend": null},
               "opacity": {"field": "kind", "type": "ordinal", "scale": {"domain": ["core", "trail", "cloud"], "range": [0.95, 0.7, 0.4]}, "legend": null}}},
            {"data": {"name": "best"}, "transform": [{"filter": "datum.cell === 'MD'"}], "mark": {"type": "point", "filled": false, "color": "#555555", "strokeWidth": 1, "size": 120}},
            {"data": {"name": "best"}, "transform": [{"filter": "datum.cell === 'MD'"}], "mark": {"type": "point", "filled": true, "color": "#000000", "opacity": 1, "size": 45}}
          ]
        },
        {
          "width": 68, "height": 70, "view": {"stroke": "#707070"},
          "encoding": {
            "x": {"field": "a", "type": "quantitative", "scale": {"domain": [0, 1], "nice": false, "zero": false},
                  "axis": {"values": [0.2, 0.4, 0.6, 0.8], "labels": false, "title": null, "ticks": true, "tickSize": 3, "tickColor": "#333333", "tickWidth": 0.8}},
            "y": {"field": "b", "type": "quantitative", "scale": {"domain": [90, 1800], "nice": false, "zero": false},
                  "axis": {"values": [400, 800, 1200, 1600], "labels": false, "title": null, "ticks": true, "tickSize": 3, "tickColor": "#333333", "tickWidth": 0.8}}
          },
          "layer": [
            {"data": {"name": "samples"}, "transform": [{"filter": "datum.cell === 'FD'"}], "mark": {"type": "rule", "clip": true},
             "encoding": {"x2": {"field": "a2"}, "y2": {"field": "b2"},
               "color": {"field": "kind", "type": "nominal", "scale": {"domain": ["core", "trail", "cloud"], "range": ["#000000", "#1a1a1a", "#9e9e9e"]}, "legend": null},
               "strokeWidth": {"field": "kind", "type": "ordinal", "scale": {"domain": ["core", "trail", "cloud"], "range": [2.4, 0.8, 5]}, "legend": null},
               "strokeDash": {"field": "kind", "type": "nominal", "scale": {"domain": ["core", "trail", "cloud"], "range": [[1, 0], [1, 1.6], [1, 0]]}, "legend": null},
               "opacity": {"field": "kind", "type": "ordinal", "scale": {"domain": ["core", "trail", "cloud"], "range": [0.95, 0.7, 0.4]}, "legend": null}}},
            {"data": {"name": "best"}, "transform": [{"filter": "datum.cell === 'FD'"}], "mark": {"type": "point", "filled": false, "color": "#555555", "strokeWidth": 1, "size": 120}},
            {"data": {"name": "best"}, "transform": [{"filter": "datum.cell === 'FD'"}], "mark": {"type": "point", "filled": true, "color": "#000000", "opacity": 1, "size": 45}}
          ]
        },
        {
          "width": 68, "height": 70, "view": {"stroke": "#707070"},
          "layer": [
            {"data": {"name": "hist"}, "transform": [{"filter": "datum.cell === 'D'"}],
             "mark": {"type": "line", "interpolate": "step-after", "color": "#000000", "strokeWidth": 0.9},
             "encoding": {
               "x": {"field": "v", "type": "quantitative", "scale": {"domain": [90, 1800], "nice": false, "zero": false},
                     "axis": {"values": [400, 800, 1200, 1600], "labels": false, "title": null, "ticks": true, "tickSize": 3, "tickColor": "#333333", "tickWidth": 0.8}},
               "y": {"field": "h", "type": "quantitative", "scale": {"domain": [0, 1], "nice": false, "zero": false},
                     "axis": {"values": [0.005, 0.42, 0.835], "labels": false, "title": null, "ticks": true, "tickSize": 3, "tickColor": "#333333", "tickWidth": 0.8}}}},
            {"data": {"name": "q"}, "transform": [{"filter": "datum.cell === 'D'"}],
             "mark": {"type": "rule", "color": "#000000", "strokeDash": [3, 2], "strokeWidth": 1}, "encoding": {"x": {"field": "v", "type": "quantitative"}}},
            {"data": {"name": "htitle"}, "transform": [{"filter": "datum.cell === 'D' && datum.part === 'main'"}],
             "mark": {"type": "text", "align": "right", "baseline": "middle", "fontSize": 7},
             "encoding": {"x": {"field": "v", "type": "quantitative"}, "y": {"field": "h", "type": "quantitative"}, "text": {"field": "label"}}},
            {"data": {"name": "htitle"}, "transform": [{"filter": "datum.cell === 'D' && datum.part !== 'main'"}],
             "mark": {"type": "text", "align": "left", "baseline": "middle", "fontSize": 5},
             "encoding": {"x": {"field": "v", "type": "quantitative"}, "y": {"field": "h", "type": "quantitative"}, "text": {"field": "label"}}}
          ]
        },
        {"width": 68, "height": 70, "view": {"stroke": null}, "data": {"values": []}, "mark": {"type": "rule"}, "encoding": {}},
        {
          "width": 68, "height": 70, "view": {"stroke": "#707070"},
          "encoding": {
            "x": {"field": "a", "type": "quantitative", "scale": {"domain": [-0.02, 1.98], "nice": false, "zero": false},
                  "axis": {"values": [0, 0.5, 1, 1.5], "format": ".1f", "title": "log(M)", "ticks": true, "tickSize": 3, "tickColor": "#333333", "tickWidth": 0.8, "labelFontSize": 7.5, "titleFontSize": 10, "labelAngle": -45, "labelAlign": "right", "labelBaseline": "top", "labelPadding": 1, "titlePadding": 3}},
            "y": {"field": "b", "type": "quantitative", "scale": {"domain": [-10, 0.6], "nice": false, "zero": false},
                  "axis": {"values": [-7.5, -5, -2.5, 0], "format": ".1f", "title": "ln(f)", "titleFontStyle": "italic", "ticks": true, "tickSize": 3, "tickColor": "#333333", "tickWidth": 0.8, "labelFontSize": 7.5, "titleFontSize": 10, "labelAngle": -45, "labelAlign": "right", "labelBaseline": "middle", "labelPadding": 1, "titlePadding": 3}}
          },
          "layer": [
            {"data": {"name": "samples"}, "transform": [{"filter": "datum.cell === 'ML'"}], "mark": {"type": "rule", "clip": true},
             "encoding": {"x2": {"field": "a2"}, "y2": {"field": "b2"},
               "color": {"field": "kind", "type": "nominal", "scale": {"domain": ["core", "trail", "cloud"], "range": ["#000000", "#1a1a1a", "#9e9e9e"]}, "legend": null},
               "strokeWidth": {"field": "kind", "type": "ordinal", "scale": {"domain": ["core", "trail", "cloud"], "range": [2.4, 0.8, 5]}, "legend": null},
               "strokeDash": {"field": "kind", "type": "nominal", "scale": {"domain": ["core", "trail", "cloud"], "range": [[1, 0], [1, 1.6], [1, 0]]}, "legend": null},
               "opacity": {"field": "kind", "type": "ordinal", "scale": {"domain": ["core", "trail", "cloud"], "range": [0.95, 0.7, 0.4]}, "legend": null}}},
            {"data": {"name": "best"}, "transform": [{"filter": "datum.cell === 'ML'"}], "mark": {"type": "point", "filled": false, "color": "#555555", "strokeWidth": 1, "size": 120}},
            {"data": {"name": "best"}, "transform": [{"filter": "datum.cell === 'ML'"}], "mark": {"type": "point", "filled": true, "color": "#000000", "opacity": 1, "size": 45}}
          ]
        },
        {
          "width": 68, "height": 70, "view": {"stroke": "#707070"},
          "encoding": {
            "x": {"field": "a", "type": "quantitative", "scale": {"domain": [0, 1], "nice": false, "zero": false},
                  "axis": {"values": [0.2, 0.4, 0.6, 0.8], "format": ".1f", "title": "Fr(Age)", "ticks": true, "tickSize": 3, "tickColor": "#333333", "tickWidth": 0.8, "labelFontSize": 7.5, "titleFontSize": 10, "labelAngle": -45, "labelAlign": "right", "labelBaseline": "top", "labelPadding": 1, "titlePadding": 3}},
            "y": {"field": "b", "type": "quantitative", "scale": {"domain": [-10, 0.6], "nice": false, "zero": false},
                  "axis": {"values": [-7.5, -5, -2.5, 0], "labels": false, "title": null, "ticks": true, "tickSize": 3, "tickColor": "#333333", "tickWidth": 0.8}}
          },
          "layer": [
            {"data": {"name": "samples"}, "transform": [{"filter": "datum.cell === 'FL'"}], "mark": {"type": "rule", "clip": true},
             "encoding": {"x2": {"field": "a2"}, "y2": {"field": "b2"},
               "color": {"field": "kind", "type": "nominal", "scale": {"domain": ["core", "trail", "cloud"], "range": ["#000000", "#1a1a1a", "#9e9e9e"]}, "legend": null},
               "strokeWidth": {"field": "kind", "type": "ordinal", "scale": {"domain": ["core", "trail", "cloud"], "range": [2.4, 0.8, 5]}, "legend": null},
               "strokeDash": {"field": "kind", "type": "nominal", "scale": {"domain": ["core", "trail", "cloud"], "range": [[1, 0], [1, 1.6], [1, 0]]}, "legend": null},
               "opacity": {"field": "kind", "type": "ordinal", "scale": {"domain": ["core", "trail", "cloud"], "range": [0.95, 0.7, 0.4]}, "legend": null}}},
            {"data": {"name": "best"}, "transform": [{"filter": "datum.cell === 'FL'"}], "mark": {"type": "point", "filled": false, "color": "#555555", "strokeWidth": 1, "size": 120}},
            {"data": {"name": "best"}, "transform": [{"filter": "datum.cell === 'FL'"}], "mark": {"type": "point", "filled": true, "color": "#000000", "opacity": 1, "size": 45}}
          ]
        },
        {
          "width": 68, "height": 70, "view": {"stroke": "#707070"},
          "encoding": {
            "x": {"field": "a", "type": "quantitative", "scale": {"domain": [90, 1800], "nice": false, "zero": false},
                  "axis": {"values": [400, 800, 1200, 1600], "format": "d", "title": "d(pc)", "ticks": true, "tickSize": 3, "tickColor": "#333333", "tickWidth": 0.8, "labelFontSize": 7.5, "titleFontSize": 10, "labelAngle": -45, "labelAlign": "right", "labelBaseline": "top", "labelPadding": 1, "titlePadding": 3}},
            "y": {"field": "b", "type": "quantitative", "scale": {"domain": [-10, 0.6], "nice": false, "zero": false},
                  "axis": {"values": [-7.5, -5, -2.5, 0], "labels": false, "title": null, "ticks": true, "tickSize": 3, "tickColor": "#333333", "tickWidth": 0.8}}
          },
          "layer": [
            {"data": {"name": "samples"}, "transform": [{"filter": "datum.cell === 'DL'"}], "mark": {"type": "rule", "clip": true},
             "encoding": {"x2": {"field": "a2"}, "y2": {"field": "b2"},
               "color": {"field": "kind", "type": "nominal", "scale": {"domain": ["core", "trail", "cloud"], "range": ["#000000", "#1a1a1a", "#9e9e9e"]}, "legend": null},
               "strokeWidth": {"field": "kind", "type": "ordinal", "scale": {"domain": ["core", "trail", "cloud"], "range": [2.4, 0.8, 5]}, "legend": null},
               "strokeDash": {"field": "kind", "type": "nominal", "scale": {"domain": ["core", "trail", "cloud"], "range": [[1, 0], [1, 1.6], [1, 0]]}, "legend": null},
               "opacity": {"field": "kind", "type": "ordinal", "scale": {"domain": ["core", "trail", "cloud"], "range": [0.95, 0.7, 0.4]}, "legend": null}}},
            {"data": {"name": "best"}, "transform": [{"filter": "datum.cell === 'DL'"}], "mark": {"type": "point", "filled": false, "color": "#555555", "strokeWidth": 1, "size": 120}},
            {"data": {"name": "best"}, "transform": [{"filter": "datum.cell === 'DL'"}], "mark": {"type": "point", "filled": true, "color": "#000000", "opacity": 1, "size": 45}}
          ]
        },
        {
          "width": 68, "height": 70, "view": {"stroke": "#707070"},
          "layer": [
            {"data": {"name": "hist"}, "transform": [{"filter": "datum.cell === 'L'"}],
             "mark": {"type": "line", "interpolate": "step-after", "color": "#000000", "strokeWidth": 0.9},
             "encoding": {
               "x": {"field": "v", "type": "quantitative", "scale": {"domain": [-10, 0.6], "nice": false, "zero": false},
                     "axis": {"values": [-7.5, -5, -2.5, 0], "format": ".1f", "title": "ln(f)", "titleFontStyle": "italic", "ticks": true, "tickSize": 3, "tickColor": "#333333", "tickWidth": 0.8, "labelFontSize": 7.5, "titleFontSize": 10, "labelAngle": -45, "labelAlign": "right", "labelBaseline": "top", "labelPadding": 1, "titlePadding": 3}},
               "y": {"field": "h", "type": "quantitative", "scale": {"domain": [0, 1], "nice": false, "zero": false},
                     "axis": {"values": [0.005, 0.42, 0.835], "labels": false, "title": null, "ticks": true, "tickSize": 3, "tickColor": "#333333", "tickWidth": 0.8}}}},
            {"data": {"name": "q"}, "transform": [{"filter": "datum.cell === 'L'"}],
             "mark": {"type": "rule", "color": "#000000", "strokeDash": [3, 2], "strokeWidth": 1}, "encoding": {"x": {"field": "v", "type": "quantitative"}}},
            {"data": {"name": "htitle"}, "transform": [{"filter": "datum.cell === 'L' && datum.part === 'main'"}],
             "mark": {"type": "text", "align": "right", "baseline": "middle", "fontSize": 7},
             "encoding": {"x": {"field": "v", "type": "quantitative"}, "y": {"field": "h", "type": "quantitative"}, "text": {"field": "label"}}},
            {"data": {"name": "htitle"}, "transform": [{"filter": "datum.cell === 'L' && datum.part !== 'main'"}],
             "mark": {"type": "text", "align": "left", "baseline": "middle", "fontSize": 5},
             "encoding": {"x": {"field": "v", "type": "quantitative"}, "y": {"field": "h", "type": "quantitative"}, "text": {"field": "label"}}}
          ]
        }
      ]
    },
    {"width": 363, "height": 10, "view": {"stroke": null}, "data": {"values": []}, "mark": {"type": "rule"}, "encoding": {}},
    {
      "width": 268, "height": 355,
      "encoding": {
        "x": {"field": "logT", "type": "quantitative", "scale": {"domain": [3.6, 4.79], "reverse": true, "nice": false, "zero": false},
              "axis": {"values": [4.6, 4.4, 4.2, 4.0, 3.8, 3.6], "format": ".1f", "title": "log(Teff)[K]", "labelPadding": 2, "titlePadding": 3}},
        "y": {"field": "logL", "type": "quantitative", "scale": {"domain": [0, 6.23], "nice": false, "zero": false},
              "axis": {"values": [0, 1, 2, 3, 4, 5, 6], "format": "d", "title": "log(L/ L⊙)", "labelPadding": 3, "titlePadding": 4}}
      },
      "layer": [
        {"data": {"name": "isochrones"}, "mark": {"type": "line", "color": "#b9b9b9", "strokeWidth": 0.8, "clip": true},
         "encoding": {"detail": {"field": "track"}, "order": {"field": "i", "type": "quantitative"}}},
        {"data": {"name": "hr_samples"}, "mark": {"type": "circle", "size": 12, "opacity": 0.95},
         "encoding": {"color": {"field": "dens", "type": "quantitative", "scale": {"domain": [0, 0.4, 0.7, 1], "range": ["#fffbe0", "#fdb863", "#d7301f", "#7f0000"]}, "legend": null}}},
        {"data": {"name": "ages"}, "mark": {"type": "text", "fontSize": 13.5, "align": "center", "baseline": "middle"}, "encoding": {"text": {"field": "label"}}},
        {"data": {"name": "zams_label"}, "mark": {"type": "text", "fontSize": 13.5, "angle": 90, "align": "center", "baseline": "middle"}, "encoding": {"text": {"field": "label"}}}
      ]
    }
  ]
}
